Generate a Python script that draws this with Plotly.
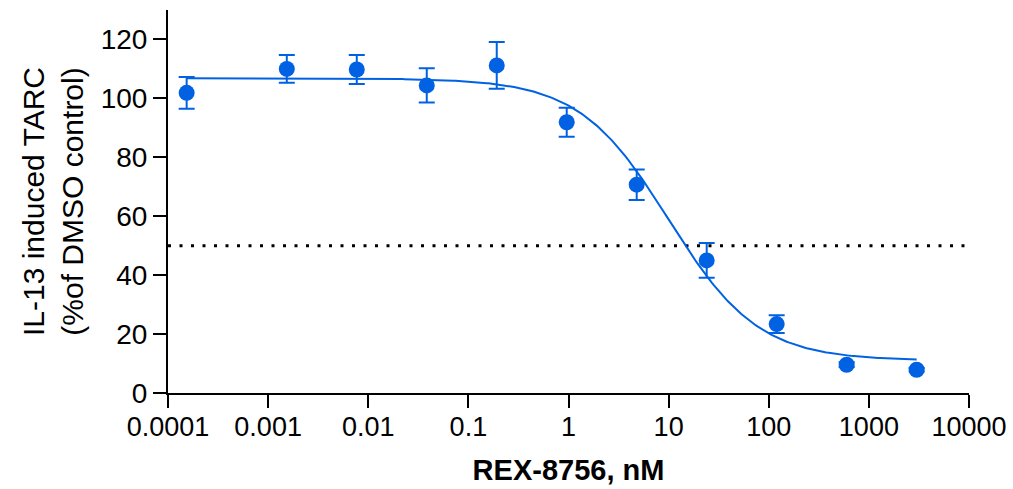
import numpy as np
import plotly.graph_objects as go

# REX-8756 concentration (nM) and IL-13 induced TARC (% of DMSO control)
conc_nM = [0.0001536, 0.001536, 0.00768, 0.0384, 0.192, 0.96, 4.8, 24, 120, 600, 3000]
tarc_pct = [101.9, 110.0, 109.8, 104.4, 111.2, 91.9, 70.7, 45.0, 23.4, 9.6, 7.9]
tarc_err = [5.4, 4.7, 4.9, 5.8, 7.9, 4.9, 5.2, 5.9, 3.0, 0.8, 0.6]

# four-parameter logistic fit
fit_top = 106.8
fit_bottom = 11.0
fit_ic50 = 10.0
fit_hill = 0.97

x_ticks = [0.0001, 0.001, 0.01, 0.1, 1, 10, 100, 1000, 10000]
x_tick_text = ["0.0001", "0.001", "0.01", "0.1", "1", "10", "100", "1000", "10000"]
y_ticks = [0, 20, 40, 60, 80, 100, 120]
half_max = 50

BLUE = "#0062E3"
FONT = "Arial, Liberation Sans, sans-serif"

xc = np.logspace(np.log10(conc_nM[0]), np.log10(conc_nM[-1]), 400)
yc = fit_bottom + (fit_top - fit_bottom) / (1 + (xc / fit_ic50) ** fit_hill)

fig = go.Figure()

fig.add_trace(go.Scatter(
    x=[x_ticks[0], x_ticks[-1]], y=[half_max, half_max], mode="lines",
    line=dict(color="black", width=3, dash="3px,8.5px"),
    hoverinfo="skip", showlegend=False,
))

fig.add_trace(go.Scatter(
    x=xc, y=yc, mode="lines",
    line=dict(color=BLUE, width=2),
    showlegend=False,
))

fig.add_trace(go.Scatter(
    x=conc_nM, y=tarc_pct, mode="markers",
    marker=dict(color=BLUE, size=16),
    error_y=dict(type="data", array=tarc_err, color=BLUE, thickness=2, width=8),
    showlegend=False,
))

fig.update_layout(
    width=1013, height=489,
    margin=dict(l=168, r=44, t=10, b=96),
    plot_bgcolor="white", paper_bgcolor="white",
    font=dict(family=FONT, size=28, color="black"),
)

fig.update_xaxes(
    type="log", range=[-4, 4], automargin=False,
    tickvals=x_ticks, ticktext=x_tick_text,
    ticks="outside", ticklen=13, tickwidth=2, tickcolor="black",
    showline=True, linewidth=2, linecolor="black",
    showgrid=False, zeroline=False,
    tickfont=dict(size=27), ticklabelstandoff=-4,
    title=dict(text="<b>REX-8756, nM</b>", font=dict(size=29), standoff=18),
)

fig.update_yaxes(
    range=[0, 130], automargin=False,
    tickvals=y_ticks,
    ticks="outside", ticklen=13, tickwidth=2, tickcolor="black",
    showline=True, linewidth=2, linecolor="black",
    showgrid=False, zeroline=False,
    tickfont=dict(size=28),
    title=dict(text="IL-13 induced TARC<br>(%of DMSO control)", font=dict(size=30), standoff=8),
)

fig.write_html("out.html")
